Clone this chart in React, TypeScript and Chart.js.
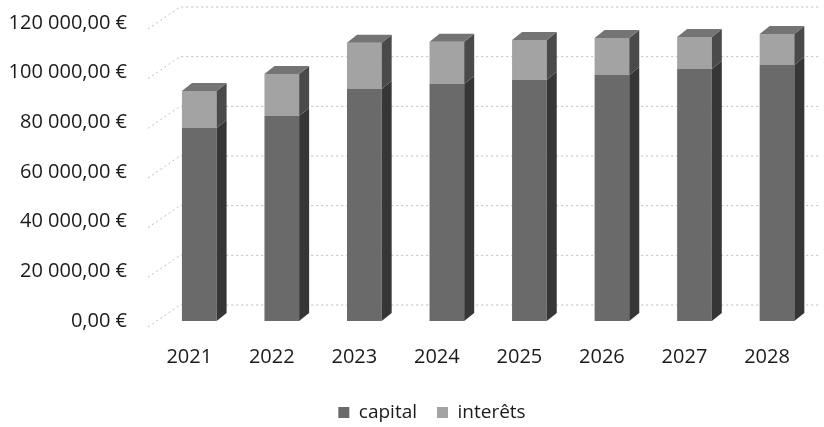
import React, { useEffect, useRef } from "react";
import { Chart, registerables } from "chart.js";

Chart.register(...registerables);

const years = ["2021", "2022", "2023", "2024", "2025", "2026", "2027", "2028"];
const capital = [77700, 82600, 93400, 95400, 97100, 99100, 101500, 103100];
const interets = [14900, 16900, 18600, 17000, 16100, 14900, 12900, 12500];
const yTickValues = [0, 20000, 40000, 60000, 80000, 100000, 120000];

const FONT = "'Open Sans', sans-serif";
const frontColors = ["#6a6a6a", "#a3a3a3"];
const sideColors = ["#363636", "#4a4a4a"];
const topColor = "#747474";
const DX = 10;
const DY = 8;

const fmtEuro = (v: number) =>
  String(Math.round(v)).replace(/\B(?=(\d{3})+(?!\d))/g, " ") + ",00 €";

const wallPlugin = {
  id: "wall3d",
  beforeDatasetsDraw(chart: any) {
    const { ctx, chartArea } = chart;
    const yScale = chart.scales.y;
    ctx.save();
    ctx.strokeStyle = "#bdbdbd";
    ctx.lineWidth = 1;
    ctx.setLineDash([2, 3]);
    yTickValues.forEach((v) => {
      const y = yScale.getPixelForValue(v);
      ctx.beginPath();
      ctx.moveTo(chartArea.left - 10, y + 6);
      ctx.lineTo(chartArea.left + 22, y - 16);
      ctx.lineTo(chartArea.right, y - 16);
      ctx.stroke();
    });
    ctx.restore();
  },
};

const legendShiftPlugin = {
  id: "legendShift",
  afterLayout(chart: any) {
    if (chart.legend) {
      chart.legend.left += 42;
    }
  },
};

const bar3dPlugin = {
  id: "bar3d",
  afterDatasetsDraw(chart: any) {
    const { ctx } = chart;
    const n = chart.data.datasets.length;
    ctx.save();
    chart.data.datasets.forEach((_ds: any, di: number) => {
      const meta = chart.getDatasetMeta(di);
      meta.data.forEach((bar: any) => {
        const { x, y, base, width } = bar.getProps(["x", "y", "base", "width"], true);
        const left = x - width / 2;
        const right = x + width / 2;
        const top = Math.min(y, base);
        const bottom = Math.max(y, base);
        ctx.fillStyle = sideColors[di];
        ctx.beginPath();
        ctx.moveTo(right, bottom);
        ctx.lineTo(right + DX, bottom - DY);
        ctx.lineTo(right + DX, top - DY);
        ctx.lineTo(right, top);
        ctx.closePath();
        ctx.fill();
        if (di === n - 1) {
          ctx.fillStyle = topColor;
          ctx.beginPath();
          ctx.moveTo(left, top);
          ctx.lineTo(left + DX, top - DY);
          ctx.lineTo(right + DX, top - DY);
          ctx.lineTo(right, top);
          ctx.closePath();
          ctx.fill();
        }
      });
    });
    ctx.restore();
  },
};

export default function App() {
  const canvasRef = useRef<HTMLCanvasElement | null>(null);

  useEffect(() => {
    if (!canvasRef.current) return;
    const chart = new Chart(canvasRef.current, {
      type: "bar",
      data: {
        labels: years,
        datasets: [
          {
            label: "capital",
            data: capital,
            backgroundColor: frontColors[0],
            borderWidth: 0,
          },
          {
            label: "interêts",
            data: interets,
            backgroundColor: frontColors[1],
            borderWidth: 0,
          },
        ],
      },
      options: {
        animation: false,
        responsive: true,
        maintainAspectRatio: false,
        layout: { padding: { top: 0, right: 2, bottom: -5, left: 0 } },
        datasets: {
          bar: { barPercentage: 0.42, categoryPercentage: 1 },
        },
        scales: {
          x: {
            stacked: true,
            grid: { display: false, drawTicks: false },
            border: { display: false },
            ticks: {
              font: { family: FONT, size: 20 },
              color: "#1a1a1a",
              labelOffset: -10,
              padding: 24,
            },
            afterFit: (scale: any) => {
              scale.height = 62;
            },
          },
          y: {
            stacked: true,
            min: 0,
            max: 120000,
            grid: { display: false, drawTicks: false },
            border: { display: false },
            afterBuildTicks: (scale: any) => {
              scale.ticks = yTickValues.map((v) => ({ value: v }));
            },
            ticks: {
              font: { family: FONT, size: 20 },
              color: "#1a1a1a",
              padding: 31,
              callback: (v: any) => fmtEuro(Number(v)),
            },
            afterFit: (scale: any) => {
              scale.width = 158;
            },
          },
        },
        plugins: {
          legend: {
            position: "bottom",
            labels: {
              font: { family: FONT, size: 19 },
              color: "#1a1a1a",
              boxWidth: 11,
              boxHeight: 11,
              padding: 20,
            },
          },
          tooltip: { enabled: false },
        },
      },
      plugins: [wallPlugin, bar3dPlugin, legendShiftPlugin],
    });
    return () => chart.destroy();
  }, []);

  return (
    <div style={{ position: "fixed", left: 0, top: -20, width: 824, height: 447, background: "#fff" }}>
      <canvas ref={canvasRef} />
    </div>
  );
}
